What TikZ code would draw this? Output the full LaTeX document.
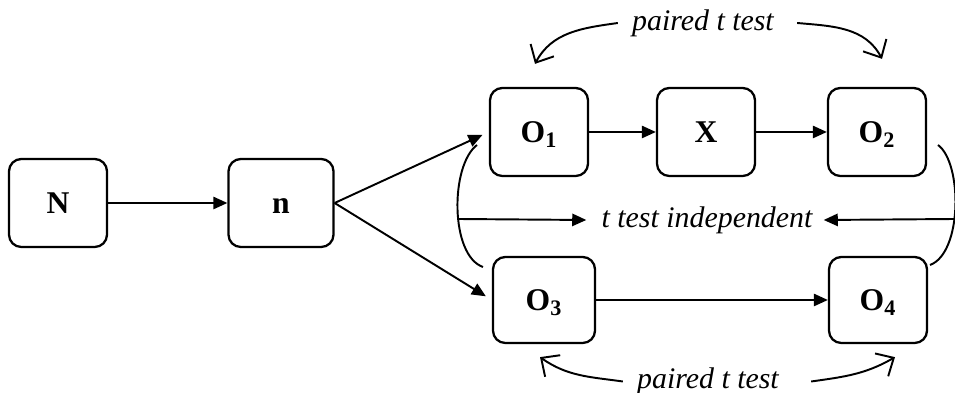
\documentclass[tikz,border=0pt]{standalone}
\usepackage{fontspec}
\setmainfont{Liberation Serif}
\usetikzlibrary{arrows.meta}

\begin{document}
\begin{tikzpicture}[
        box/.style = {draw, line width=1.3pt, rounded corners=7pt, minimum width=1.96cm,
                      minimum height=1.76cm, text height=12pt, text depth=0pt,
                      font=\fontsize{18}{20}\selectfont\bfseries},
        pfeil/.style = {line width=1.1pt, -{Triangle[length=8pt, width=7pt]}},
        bogen/.style = {line width=1.1pt, -{Straight Barb[length=8pt, width=15pt]}},
        txt/.style = {font=\fontsize{17}{19}\selectfont\itshape, inner sep=0pt}]
            \useasboundingbox (0,0) rectangle (19.1,7.86);   %Rahmen
            \node [box] (N) at (1.16,3.8) {N};                %Population
            \node [box, minimum width=2.1cm] (n) at (5.62,3.8) {n};   %Stichprobe
            \node [box] (O1) at (10.78,5.22) {O\textsubscript{1}};
            \node [box] (X) at (14.12,5.22) {X};
            \node [box] (O2) at (17.54,5.22) {O\textsubscript{2}};
            \node [box, minimum width=2.04cm, minimum height=1.72cm] (O3) at (10.88,1.86) {O\textsubscript{3}};
            \node [box, minimum height=1.72cm] (O4) at (17.56,1.86) {O\textsubscript{4}};
            \draw [pfeil] (N) -- (n);
            \draw [pfeil, shorten >=4pt] (n.east) -- (O1.west);
            \draw [pfeil, shorten >=4pt] (n.east) -- (O3.west);
            \draw [pfeil] (O1) -- (X);
            \draw [pfeil] (X) -- (O2);
            \draw [pfeil] (O3) -- (O4);
            % Klammern
            \draw [line width=1.1pt] (9.54,4.96) .. controls (9.0,4.55) and (9.0,2.75) .. (9.66,2.52);
            \draw [line width=1.1pt] (18.76,4.96) .. controls (19.25,4.6) and (19.25,2.8) .. (18.6,2.56);
            \coordinate (li) at (9.16,3.48);
            \coordinate (re) at (19.1,3.48);
            % Texte
            \node [txt] (pt1) at (14.06,7.40) {paired t test};
            \node [txt] (ind) at (14.14,3.46) {t test independent};
            \node [txt] (pt2) at (14.16,0.23) {paired t test};
            \draw [pfeil] (li) -- ([xshift=-0.3cm]ind.west);
            \draw [pfeil] (re) -- ([xshift=0.22cm]ind.east);
            \draw [bogen] ([xshift=-0.28cm]pt1.west) to[out=188, in=62] ([shift={(-0.08,0.46)}]O1.north);
            \draw [bogen] ([xshift=0.46cm]pt1.east) to[out=-5, in=118] ([shift={(0.1,0.56)}]O2.north);
            \draw [bogen] ([xshift=-0.28cm]pt2.west) to[out=172, in=-35] ([shift={(-0.08,-0.26)}]O3.south);
            \draw [bogen] ([xshift=0.64cm]pt2.east) to[out=8, in=210] ([shift={(0.34,-0.26)}]O4.south);
        \end{tikzpicture}
\end{document}
